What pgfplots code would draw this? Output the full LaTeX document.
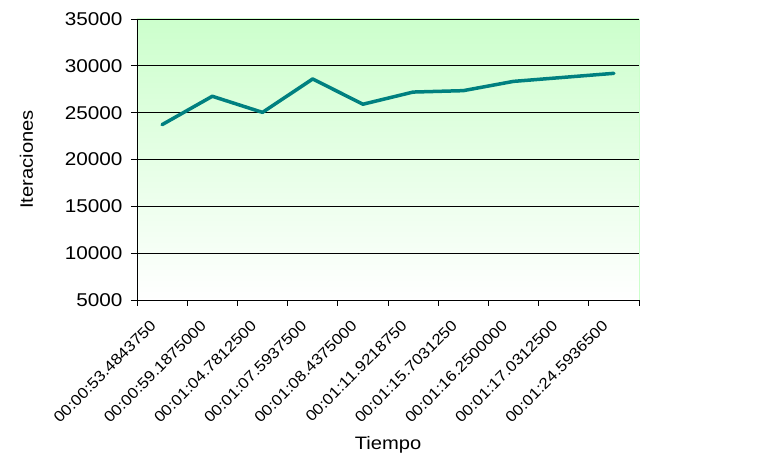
\documentclass[border=0pt]{standalone}
\usepackage{pgfplots}
\pgfplotsset{compat=1.18}
\usepackage{fontspec}
\setmainfont{Liberation Sans}[FakeStretch=1.12]
\definecolor{bgtop}{HTML}{CCFFCC}
\definecolor{teal2}{HTML}{008080}
\begin{document}
\begin{tikzpicture}
\begin{axis}[
  name=ax,
  at={(0,0)}, anchor=south west,
  scale only axis,
  width=502pt, height=281pt,
  xmin=0.5, xmax=10.5,
  ymin=5000, ymax=35000,
  ytick={5000,10000,...,35000},
  axis x line*=bottom, axis y line*=left,
  axis line style={black, line width=0.8pt},
  axis background/.style={top color=bgtop, bottom color=white, draw=bgtop},
  ymajorgrids,
  grid style={black, line width=0.7pt},
  tick align=outside,
  major tick length=6pt,
  tick style={black, line width=0.8pt},
  xtick={0.5,1.5,...,10.5},
  xticklabels={},
  extra x ticks={1,2,3,4,5,6,7,8,9,10},
  extra x tick labels={00:00:53.4843750,00:00:59.1875000,00:01:04.7812500,00:01:07.5937500,00:01:08.4375000,00:01:11.9218750,00:01:15.7031250,00:01:16.2500000,00:01:17.0312500,00:01:24.5936500},
  extra x tick style={major tick length=0pt, grid=none,
    xticklabel style={rotate=45, anchor=east, xshift=-19pt, yshift=-10pt, font=\fontsize{15.2}{17}\selectfont}},
  yticklabel style={font=\fontsize{18.5}{20}\selectfont, xshift=-5pt},
  scaled y ticks=false,
  /pgf/number format/assume math mode=true,
  yticklabel={\pgfmathprintnumber[fixed,precision=0,1000 sep={}]{\tick}},
  xlabel={Tiempo},
  ylabel={Iteraciones},
  label style={font=\fontsize{18}{20}\selectfont},
  xlabel style={at={(axis description cs:0.5,0)}, anchor=south, yshift=-157pt},
  ylabel style={at={(axis description cs:-0.22,0.5)}, anchor=center},
  clip=false,
]
\addplot[teal2, line width=3.5pt, line join=round, line cap=round] coordinates {
(1,23720) (2,26750) (3,25030) (4,28600) (5,25900) (6,27200) (7,27350) (8,28340) (9,28770) (10,29200)
};
\end{axis}
\pgfresetboundingbox
\path[use as bounding box] (-137pt,-157pt) rectangle (645pt,300pt);
\end{tikzpicture}
\end{document}
